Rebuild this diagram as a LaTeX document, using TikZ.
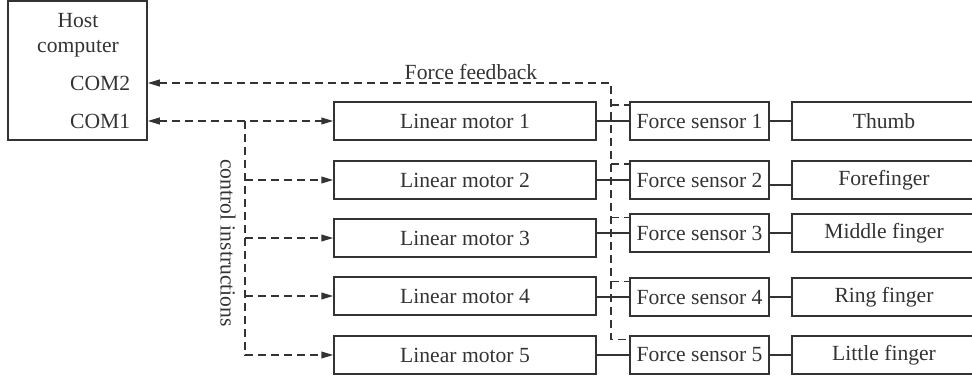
\documentclass[tikz,border=0pt]{standalone}
\usepackage{fontspec}
\setmainfont{Liberation Serif}
\usetikzlibrary{arrows.meta,positioning,calc}

\begin{document}
\begin{tikzpicture}[x=0.5pt,y=-0.5pt,>={Triangle[length=6pt,width=3.4pt]},
			line width=0.75pt,color=black!80,font=\fontsize{10.8}{12.5}\selectfont]
			\tikzstyle{box}=[draw,rectangle,inner sep=0pt,minimum height=19pt]
			\tikzstyle{bus}=[dash pattern=on 4pt off 2.5pt]
			
			\useasboundingbox (0,0) rectangle (972,379);
			
			% host computer with its two ports
			\node[box, minimum width=69.5pt, minimum height=69.5pt] (host) at (77.5,70.5) {};
			
			\node[align=center] (hostname) at (78,35) {Host\\computer};
			
			\node[anchor=east, inner sep=0pt] (com2) at (131,83) {COM2};
			
			\node[anchor=east, inner sep=0pt] (com1) at (131,121) {COM1};
			
			% motors, sensors and fingers
			\node[box, minimum width=131pt]    (M1) at (465,121)    {Linear motor 1};
			
			\node[box, minimum width=131pt]    (M2) at (465,180)    {Linear motor 2};
			
			\node[box, minimum width=131pt]    (M3) at (465,238)    {Linear motor 3};
			
			\node[box, minimum width=131pt]    (M4) at (465,296)    {Linear motor 4};
			
			\node[box, minimum width=131pt]    (M5) at (465,355)    {Linear motor 5};
			
			\node[box, minimum width=69.5pt]   (S1) at (699.5,121)   {Force sensor 1};
			
			\node[box, minimum width=69.5pt]   (S2) at (699.5,180)   {Force sensor 2};
			
			\node[box, minimum width=69.5pt]   (S3) at (699.5,233)   {Force sensor 3};
			
			\node[box, minimum width=69.5pt]   (S4) at (699.5,297)   {Force sensor 4};
			
			\node[box, minimum width=69.5pt]   (S5) at (699.5,355)   {Force sensor 5};
			
			\node[box, minimum width=92pt]     (F1) at (884,121)     {Thumb};
			
			\node[box, minimum width=92pt]     (F2) at (884,180)     {Forefinger};
			
			\node[box, minimum width=92pt]     (F3) at (884,233)     {Middle finger};
			
			\node[box, minimum width=92pt]     (F4) at (884,297)     {Ring finger};
			
			\node[box, minimum width=92pt]     (F5) at (884,355)     {Little finger};
			
			% labels of the two buses
			\node (fblabel) at (471,72) {Force feedback};
			
			\node[rotate=-90] (ctrllabel) at (228,243) {control instructions};
			
			% solid links along each row
			\draw (M1) -- (S1);
			\draw (M2) -- (S2);
			\draw (M3.east |- S3) -- (S3);
			\draw (M4.east |- S4) -- (S4);
			\draw (M5) -- (S5);
			
			\draw (S1) -- (F1);
			\draw ([yshift=-2.5pt]S2.east) -- ([yshift=-2.5pt]F2.west);
			\draw (S3) -- (F3);
			\draw (S4) -- (F4);
			\draw (S5) -- (F5);
			
			% force feedback bus
			\coordinate (fb) at (611,83);
			\foreach \i in {1,...,5}
				\coordinate (h\i) at ([yshift=-2pt]S\i.north west);
			
			\draw[bus,<-] (host.east |- com2) -- (fb) -- (fb |- h5) -- (h5);
			\foreach \i in {1,...,4}
				\draw[bus] (fb |- h\i) -- (h\i);
			
			% control bus
			\coordinate (cb) at (245,121);
			
			\draw[bus,<->] (host.east |- com1) -- (M1.west);
			\draw[bus,->] (cb) |- (M5.west);
			\foreach \i in {2,3,4}
				\draw[bus,->] (cb |- M\i) -- (M\i.west);
			
			\end{tikzpicture}
\end{document}
